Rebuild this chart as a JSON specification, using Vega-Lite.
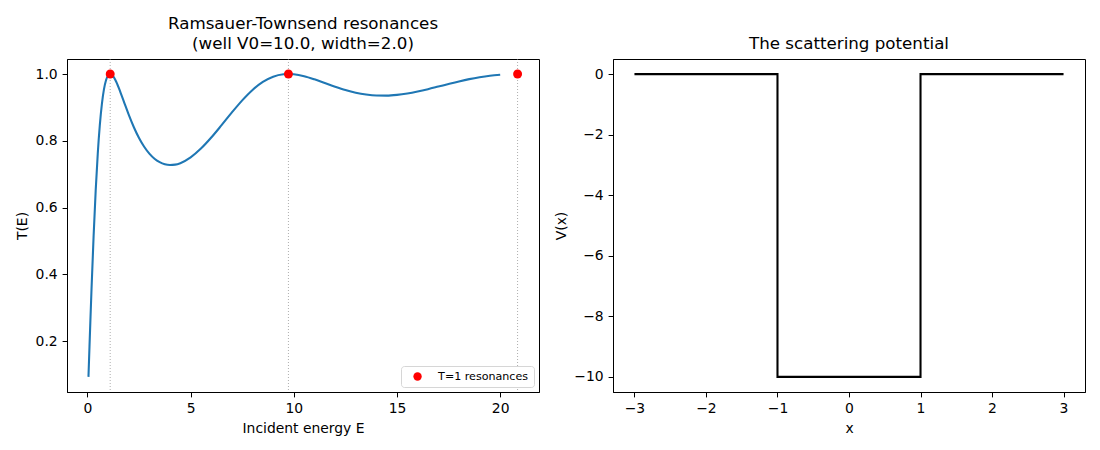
{
  "$schema": "https://vega.github.io/schema/vega-lite/v6.json",
  "padding": {"left": 15, "top": 15, "right": 0, "bottom": 0},
  "background": "white",
  "config": {
    "font": "DejaVu Sans",
    "view": {"stroke": "black", "strokeWidth": 1},
    "axis": {
      "grid": false,
      "domainColor": "black",
      "tickColor": "black",
      "tickSize": 4.9,
      "labelPadding": 4.9,
      "labelFontSize": 13.9,
      "labelColor": "black",
      "titleFontSize": 13.9,
      "titleFontWeight": "normal",
      "titleColor": "black",
      "titlePadding": 5.6
    },
    "title": {"fontSize": 16.7, "fontWeight": "normal", "color": "black", "offset": 6, "lineHeight": 20}
  },
  "datasets": {
    "transmission": [
      {"E": 0.05, "T": 0.0932}, {"E": 0.1, "T": 0.1847}, {"E": 0.15, "T": 0.2737},
      {"E": 0.2, "T": 0.3592}, {"E": 0.3, "T": 0.5161}, {"E": 0.4, "T": 0.6509},
      {"E": 0.5, "T": 0.7611}, {"E": 0.6, "T": 0.8469}, {"E": 0.7, "T": 0.9102},
      {"E": 0.8, "T": 0.9539}, {"E": 0.9, "T": 0.9813}, {"E": 1.0, "T": 0.9956},
      {"E": 1.103, "T": 1.0}, {"E": 1.2, "T": 0.9969}, {"E": 1.4, "T": 0.9762},
      {"E": 1.6, "T": 0.9454}, {"E": 1.8, "T": 0.9116}, {"E": 2.0, "T": 0.8784},
      {"E": 2.25, "T": 0.8407}, {"E": 2.5, "T": 0.8085}, {"E": 2.75, "T": 0.7823},
      {"E": 3.0, "T": 0.7618}, {"E": 3.25, "T": 0.7465}, {"E": 3.5, "T": 0.736},
      {"E": 3.75, "T": 0.7297}, {"E": 4.0, "T": 0.7275}, {"E": 4.25, "T": 0.7287},
      {"E": 4.5, "T": 0.7331}, {"E": 5.0, "T": 0.7504}, {"E": 5.5, "T": 0.7767},
      {"E": 6.0, "T": 0.8098}, {"E": 6.5, "T": 0.8469}, {"E": 7.0, "T": 0.8851},
      {"E": 7.5, "T": 0.9212}, {"E": 8.0, "T": 0.9524}, {"E": 8.5, "T": 0.9764},
      {"E": 9.0, "T": 0.992}, {"E": 9.5, "T": 0.9992}, {"E": 9.739, "T": 1.0},
      {"E": 10.0, "T": 0.9991}, {"E": 10.5, "T": 0.9935}, {"E": 11.0, "T": 0.9842},
      {"E": 11.5, "T": 0.9732}, {"E": 12.0, "T": 0.9622}, {"E": 12.5, "T": 0.9522},
      {"E": 13.0, "T": 0.9442}, {"E": 13.5, "T": 0.9387}, {"E": 14.0, "T": 0.9357},
      {"E": 14.5, "T": 0.9354}, {"E": 15.0, "T": 0.9375}, {"E": 15.5, "T": 0.9417},
      {"E": 16.0, "T": 0.9476}, {"E": 16.5, "T": 0.9546}, {"E": 17.0, "T": 0.9624},
      {"E": 17.5, "T": 0.9703}, {"E": 18.0, "T": 0.9779}, {"E": 18.5, "T": 0.9848},
      {"E": 19.0, "T": 0.9905}, {"E": 19.5, "T": 0.995}, {"E": 20.0, "T": 0.9981}
    ],
    "resonances": [
      {"E": 1.103, "T": 1.0, "label": "T=1 resonances"},
      {"E": 9.739, "T": 1.0, "label": "T=1 resonances"},
      {"E": 20.842, "T": 1.0, "label": "T=1 resonances"}
    ],
    "potential": [
      {"i": 0, "x": -3, "V": 0},
      {"i": 1, "x": -1, "V": 0},
      {"i": 2, "x": -1, "V": -10},
      {"i": 3, "x": 1, "V": -10},
      {"i": 4, "x": 1, "V": 0},
      {"i": 5, "x": 3, "V": 0}
    ]
  },
  "resolve": {"scale": {"color": "independent"}, "legend": {"color": "independent"}},
  "hconcat": [
    {
      "title": {"text": ["Ramsauer-Townsend resonances", "(well V0=10.0, width=2.0)"]},
      "width": 472,
      "height": 333,
      "layer": [
        {
          "data": {"name": "resonances"},
          "mark": {"type": "rule", "color": "#808080", "opacity": 0.8, "strokeWidth": 0.8, "strokeDash": [1, 2]},
          "encoding": {
            "x": {"field": "E", "type": "quantitative"}
          }
        },
        {
          "data": {"name": "transmission"},
          "mark": {"type": "line", "color": "#1f77b4", "strokeWidth": 2.08, "interpolate": "monotone"},
          "encoding": {
            "x": {"field": "E", "type": "quantitative", "title": "Incident energy E",
                  "scale": {"domain": [-0.99, 21.88], "nice": false, "zero": false},
                  "axis": {"values": [0, 5, 10, 15, 20]}},
            "y": {"field": "T", "type": "quantitative", "title": "T(E)",
                  "scale": {"domain": [0.048, 1.045], "nice": false, "zero": false},
                  "axis": {"values": [0.2, 0.4, 0.6, 0.8, 1.0], "format": ".1f"}}
          }
        },
        {
          "data": {"name": "resonances"},
          "mark": {"type": "point", "filled": true, "opacity": 1, "size": 80, "shape": "circle"},
          "encoding": {
            "x": {"field": "E", "type": "quantitative"},
            "y": {"field": "T", "type": "quantitative"},
            "color": {
              "field": "label", "type": "nominal",
              "scale": {"range": ["red"]},
              "legend": {
                "title": null,
                "orient": "bottom-right",
                "offset": 5,
                "padding": 5,
                "fillColor": "white",
                "strokeColor": "#d6d6d6",
                "cornerRadius": 3,
                "labelFontSize": 11.1,
                "labelColor": "black",
                "symbolSize": 70,
                "symbolType": "circle",
                "symbolOffset": 6,
                "labelOffset": 15
              }
            }
          }
        }
      ]
    },
    {
      "title": {"text": "The scattering potential"},
      "width": 472,
      "height": 333,
      "data": {"name": "potential"},
      "mark": {"type": "line", "color": "black", "strokeWidth": 2.08},
      "encoding": {
        "x": {"field": "x", "type": "quantitative", "title": "x",
              "scale": {"domain": [-3.3, 3.3], "nice": false, "zero": false},
              "axis": {"values": [-3, -2, -1, 0, 1, 2, 3]}},
        "y": {"field": "V", "type": "quantitative", "title": "V(x)",
              "scale": {"domain": [-10.5, 0.5], "nice": false, "zero": false},
              "axis": {"values": [-10, -8, -6, -4, -2, 0]}},
        "order": {"field": "i", "type": "quantitative"}
      }
    }
  ],
  "bounds": "flush",
  "spacing": 74
}
